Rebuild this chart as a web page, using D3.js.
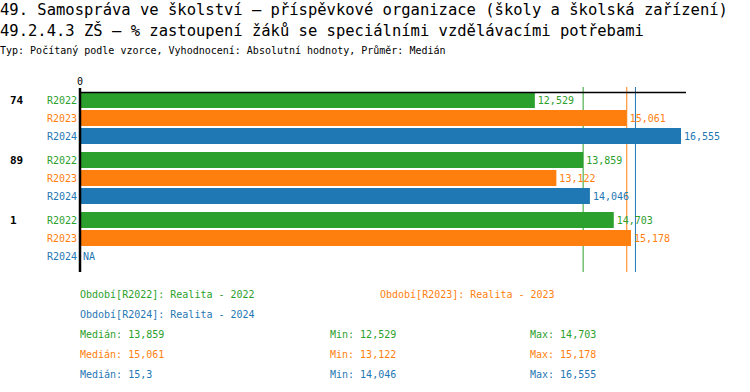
<!DOCTYPE html>
<html>
<head>
<meta charset="utf-8">
<script src="https://cdn.jsdelivr.net/npm/d3@7"></script>
<style>
  body { margin: 0; background: #fff; }
  text { font-family: "DejaVu Sans Mono", "Liberation Mono", monospace; }
</style>
</head>
<body>
<svg></svg>
<script>
// Chart dimensions
const width = 750;
const height = 392;
const marginLeft = 80;

// Data
const groups = ["74", "89", "1"];
const series = ["R2022", "R2023", "R2024"];
const colors = ["#2ca02c", "#ff7f0e", "#1f77b4"];
const r2022 = [12.529, 13.859, 14.703];
const r2023 = [15.061, 13.122, 15.178];
const r2024 = [16.555, 14.046, null];
const medians = [13.859, 15.061, 15.3];
const mins = [12.529, 13.122, 14.046];
const maxs = [14.703, 15.178, 16.555];
const legendNames = ["Období[R2022]: Realita - 2022", "Období[R2023]: Realita - 2023", "Období[R2024]: Realita - 2024"];

const values = [r2022, r2023, r2024];
const rows = [];
groups.forEach((g, i) => series.forEach((s, j) => rows.push({group: g, series: s, j, value: values[j][i]})));

const fmt = v => String(v).replace(".", ",");

const svg = d3.select("svg")
    .attr("width", width)
    .attr("height", height)
    .attr("viewBox", [0, 0, width, height]);

// Titles
svg.append("text").attr("x", 0).attr("y", 15).attr("font-size", 15.5)
    .text("49. Samospráva ve školství – příspěvkové organizace (školy a školská zařízení)");
svg.append("text").attr("x", 0).attr("y", 36).attr("font-size", 15.5)
    .text("49.2.4.3 ZŠ – % zastoupení žáků se speciálními vzdělávacími potřebami");
svg.append("text").attr("x", 0).attr("y", 54).attr("font-size", 10)
    .text("Typ: Počítaný podle vzorce, Vyhodnocení: Absolutní hodnoty, Průměr: Medián");

// Scales
const x = d3.scaleLinear([0, 16.555], [marginLeft, 681]);
const y0 = d3.scaleBand(groups, [92, 272]);
const y1 = d3.scaleBand(series, [0, 52]).paddingInner(1 / 9);

// Median lines (behind bars)
svg.append("g").selectAll("line")
  .data(medians)
  .join("line")
    .attr("x1", d => x(d)).attr("x2", d => x(d))
    .attr("y1", 87).attr("y2", 272)
    .attr("stroke", (d, i) => colors[i])
    .attr("stroke-width", 1);

// Bars
svg.append("g").selectAll("rect")
  .data(rows.filter(d => d.value != null))
  .join("rect")
    .attr("x", x(0))
    .attr("y", d => y0(d.group) + y1(d.series))
    .attr("width", d => x(d.value) - x(0))
    .attr("height", y1.bandwidth())
    .attr("fill", d => colors[d.j]);

// Value labels
svg.append("g").attr("font-size", 10).selectAll("text")
  .data(rows)
  .join("text")
    .attr("x", d => (d.value != null ? x(d.value) : x(0)) + 3)
    .attr("y", d => y0(d.group) + y1(d.series) + y1.bandwidth() / 2)
    .attr("dy", "0.35em")
    .attr("fill", d => colors[d.j])
    .text(d => d.value != null ? fmt(d.value) : "NA");

// Series labels
svg.append("g").attr("font-size", 10).attr("text-anchor", "end").selectAll("text")
  .data(rows)
  .join("text")
    .attr("x", 77)
    .attr("y", d => y0(d.group) + y1(d.series) + y1.bandwidth() / 2)
    .attr("dy", "0.35em")
    .attr("fill", d => colors[d.j])
    .text(d => d.series);

// Group labels
svg.append("g").attr("font-size", 11).attr("font-weight", "bold").selectAll("text")
  .data(groups)
  .join("text")
    .attr("x", 10)
    .attr("y", d => y0(d) + y1(series[0]) + y1.bandwidth() / 2)
    .attr("dy", "0.35em")
    .text(d => d);

// Axes lines
svg.append("line").attr("x1", 79).attr("x2", 686).attr("y1", 92.5).attr("y2", 92.5)
    .attr("stroke", "#000").attr("stroke-width", 1.5);
svg.append("line").attr("x1", x(0)).attr("x2", x(0)).attr("y1", 88).attr("y2", 272)
    .attr("stroke", "#000").attr("stroke-width", 2.5);
svg.append("text").attr("x", x(0)).attr("y", 85).attr("font-size", 10)
    .attr("text-anchor", "middle").text("0");

// Legend
const legendPos = [[80, 294], [380, 294], [80, 314]];
svg.append("g").attr("font-size", 10).selectAll("text")
  .data(legendNames)
  .join("text")
    .attr("x", (d, i) => legendPos[i][0])
    .attr("y", (d, i) => legendPos[i][1])
    .attr("dy", "0.35em")
    .attr("fill", (d, i) => colors[i])
    .text(d => d);

const stats = svg.append("g").attr("font-size", 10);
series.forEach((s, i) => {
  const yy = 334 + i * 20;
  stats.append("text").attr("x", 80).attr("y", yy).attr("dy", "0.35em").attr("fill", colors[i])
      .text("Medián: " + fmt(medians[i]));
  stats.append("text").attr("x", 330).attr("y", yy).attr("dy", "0.35em").attr("fill", colors[i])
      .text("Min: " + fmt(mins[i]));
  stats.append("text").attr("x", 530).attr("y", yy).attr("dy", "0.35em").attr("fill", colors[i])
      .text("Max: " + fmt(maxs[i]));
});
</script>
</body>
</html>
